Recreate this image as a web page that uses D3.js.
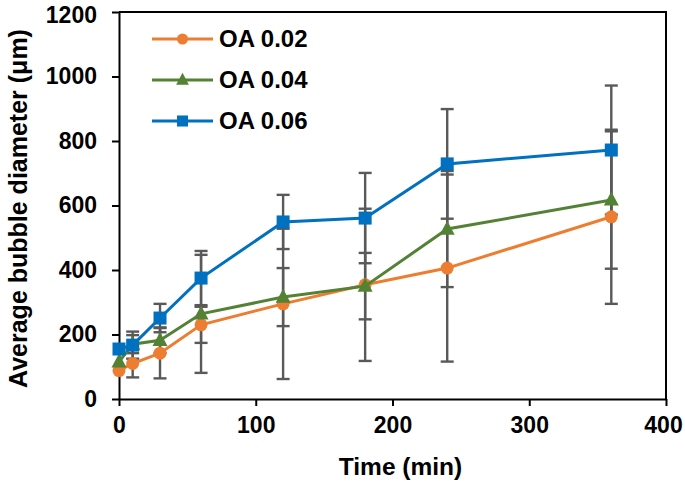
<!DOCTYPE html>
<html>
<head>
<meta charset="utf-8">
<script src="https://cdn.jsdelivr.net/npm/d3@7"></script>
<style>
  body { margin: 0; background: #fff; }
  svg { display: block; }
  text { font-family: Arial, "Liberation Sans", sans-serif; font-weight: bold; fill: #000; }
</style>
</head>
<body>
<svg id="chart" width="685" height="483"></svg>
<script>
// ---- data ----
const times = [0, 10, 30, 60, 120, 180, 240, 360];
const seriesNames = ["OA 0.02", "OA 0.04", "OA 0.06"];
const oa002 = [88, 110, 142, 230, 295, 354, 406, 565];
const oa004 = [115, 170, 182, 264, 316, 350, 527, 617];
const oa006 = [155, 167, 251, 375, 549, 561, 729, 772];
const err002 = [0, 43, 78, 56, 233, 236, 290, 270];
const err004 = [0, 28, 40, 183, 90, 103, 180, 213];
const err006 = [0, 42, 44, 84, 84, 140, 170, 200];
const xTicks = [0, 100, 200, 300, 400];
const yTicks = [0, 200, 400, 600, 800, 1000, 1200];
const colors = ["#ED7D31", "#548235", "#0070C0"];
const markers = ["circle", "triangle", "square"];

const series = [
  { name: seriesNames[0], values: oa002, err: err002, color: colors[0], marker: markers[0] },
  { name: seriesNames[1], values: oa004, err: err004, color: colors[1], marker: markers[1] },
  { name: seriesNames[2], values: oa006, err: err006, color: colors[2], marker: markers[2] }
];

const svg = d3.select("#chart");
const L = 119, R = 666, T = 12, B = 399;
const x = d3.scaleLinear().domain([0, 400]).range([L, R]);
const y = d3.scaleLinear().domain([0, 1200]).range([B, T]);

// axes
const fs = "23px";
const xAxis = svg.append("g").attr("transform", `translate(0,${B})`)
  .call(d3.axisBottom(x).tickValues(xTicks).tickFormat(d3.format("d")).tickSize(7).tickPadding(11).tickSizeOuter(0));
const yAxis = svg.append("g").attr("transform", `translate(${L},0)`)
  .call(d3.axisLeft(y).tickValues(yTicks).tickFormat(d3.format("d")).tickSize(7).tickPadding(15).tickSizeOuter(0));
[xAxis, yAxis].forEach(g => {
  g.select(".domain").attr("stroke", "#000").attr("stroke-width", 2);
  g.selectAll(".tick line").attr("stroke", "#000").attr("stroke-width", 2);
  g.selectAll(".tick text").attr("fill", "#000").style("font-size", fs)
    .style("font-family", "Arial, 'Liberation Sans', sans-serif").style("font-weight", "bold");
});
// keep edge labels inside the picture
xAxis.selectAll(".tick text").filter(d => d === 400).attr("dx", -3);
yAxis.selectAll(".tick text").filter(d => d === 1200).attr("dy", "0.45em");

// box (top + right)
svg.append("path").attr("d", `M${L},${T}H${R}V${B}`).attr("fill", "none")
  .attr("stroke", "#000").attr("stroke-width", 2);

// titles
svg.append("text").attr("x", (x(0) + x(400)) / 2 + 8).attr("y", 475)
  .attr("text-anchor", "middle").style("font-size", "24.5px").text("Time (min)");
svg.append("text").attr("transform", `translate(27,${(T + B) / 2 + 3}) rotate(-90)`)
  .attr("text-anchor", "middle").style("font-size", "25px").text("Average bubble diameter (μm)");

// error bars
const cap = 6.5;
const eb = svg.append("g").attr("stroke", "#595959").attr("stroke-width", 2.4).attr("fill", "none");
series.forEach(s => {
  times.forEach((t, i) => {
    const e = s.err[i];
    if (!e) return;
    const cx = x(t), y1 = y(s.values[i] + e), y2 = y(s.values[i] - e);
    eb.append("line").attr("x1", cx).attr("x2", cx).attr("y1", y1).attr("y2", y2);
    eb.append("line").attr("x1", cx - cap).attr("x2", cx + cap).attr("y1", y1).attr("y2", y1);
    eb.append("line").attr("x1", cx - cap).attr("x2", cx + cap).attr("y1", y2).attr("y2", y2);
  });
});

function drawMarker(g, type, cx, cy, color, k) {
  k = k || 1;
  if (type === "circle") {
    g.append("circle").attr("cx", cx).attr("cy", cy).attr("r", 6.5 * k).attr("fill", color);
  } else if (type === "square") {
    const s = 13 * k;
    g.append("rect").attr("x", cx - s / 2).attr("y", cy - s / 2).attr("width", s).attr("height", s).attr("fill", color);
  } else {
    const w = 15 * k, h = 14 * k;
    g.append("path").attr("d", `M${cx},${cy - h * 0.6}L${cx + w / 2},${cy + h * 0.4}L${cx - w / 2},${cy + h * 0.4}Z`).attr("fill", color);
  }
}

const line = d3.line().x((d, i) => x(times[i])).y(d => y(d));
series.forEach(s => {
  const g = svg.append("g");
  g.append("path").datum(s.values).attr("d", line).attr("fill", "none")
    .attr("stroke", s.color).attr("stroke-width", 3);
  s.values.forEach((v, i) => drawMarker(g, s.marker, x(times[i]), y(v), s.color));
});

// legend
const legY = [39, 80, 121];
series.forEach((s, i) => {
  const g = svg.append("g");
  g.append("line").attr("x1", 152).attr("x2", 213).attr("y1", legY[i]).attr("y2", legY[i])
    .attr("stroke", s.color).attr("stroke-width", 3);
  drawMarker(g, s.marker, 182.5, legY[i], s.color, 0.85);
  g.append("text").attr("x", 219).attr("y", legY[i]).attr("dy", "0.35em")
    .style("font-size", "24px").text(s.name);
});
</script>
</body>
</html>
